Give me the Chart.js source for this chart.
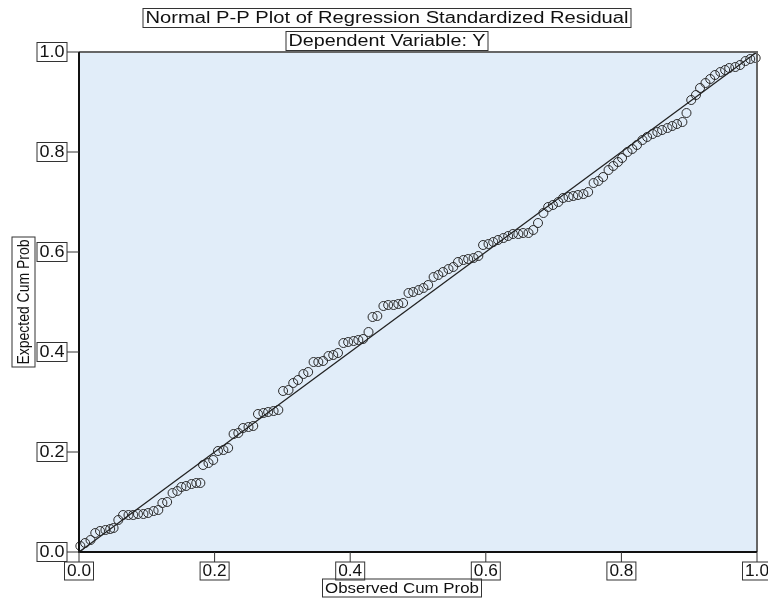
<!DOCTYPE html>
<html>
<head>
<meta charset="utf-8">
<script src="https://cdn.jsdelivr.net/npm/chart.js@4"></script>
<style>
  html, body { margin: 0; padding: 0; background: #fff; }
  #contenedor { width: 768px; height: 598px; }
</style>
</head>
<body>
<div id="contenedor"><canvas id="graficoPP" width="768" height="598"></canvas></div>
<script>
// Textos del gráfico
const titulo = 'Normal P-P Plot of Regression Standardized Residual';
const subtitulo = 'Dependent Variable: Y';
const tituloX = 'Observed Cum Prob';
const tituloY = 'Expected Cum Prob';

// Marcas de los ejes
const marcas = [0, 0.2, 0.4, 0.6, 0.8, 1.0];
const etiquetasMarcas = ['0.0', '0.2', '0.4', '0.6', '0.8', '1.0'];

const probObservada = [
  0.002, 0.009, 0.017, 0.024, 0.031, 0.039, 0.046, 0.051, 0.058, 0.065,
  0.073, 0.080, 0.087, 0.095, 0.102, 0.110, 0.117, 0.123, 0.130, 0.138,
  0.145, 0.151, 0.158, 0.166, 0.173, 0.179, 0.183, 0.191, 0.198, 0.205,
  0.213, 0.220, 0.228, 0.235, 0.242, 0.250, 0.257, 0.264, 0.272, 0.279,
  0.287, 0.294, 0.301, 0.309, 0.316, 0.323, 0.331, 0.338, 0.346, 0.353,
  0.360, 0.368, 0.375, 0.382, 0.390, 0.397, 0.405, 0.412, 0.419, 0.427,
  0.433, 0.440, 0.449, 0.456, 0.464, 0.471, 0.478, 0.486, 0.493, 0.501,
  0.508, 0.515, 0.523, 0.530, 0.537, 0.545, 0.552, 0.559, 0.567, 0.574,
  0.582, 0.589, 0.596, 0.604, 0.611, 0.618, 0.626, 0.633, 0.640, 0.648,
  0.655, 0.663, 0.670, 0.677, 0.685, 0.692, 0.699, 0.707, 0.714, 0.722,
  0.729, 0.736, 0.744, 0.751, 0.759, 0.766, 0.773, 0.781, 0.788, 0.795,
  0.801, 0.809, 0.816, 0.823, 0.831, 0.838, 0.846, 0.853, 0.860, 0.868,
  0.875, 0.882, 0.890, 0.896, 0.903, 0.910, 0.916, 0.924, 0.931, 0.938,
  0.946, 0.953, 0.959, 0.968, 0.975, 0.983, 0.990, 0.998
];
const probEsperada = [
  0.012, 0.018, 0.024, 0.038, 0.042, 0.044, 0.046, 0.048, 0.064, 0.074,
  0.074, 0.074, 0.076, 0.076, 0.078, 0.082, 0.084, 0.098, 0.100, 0.118,
  0.122, 0.130, 0.132, 0.136, 0.138, 0.138, 0.174, 0.178, 0.184, 0.202,
  0.204, 0.208, 0.236, 0.238, 0.248, 0.250, 0.252, 0.276, 0.278, 0.280,
  0.282, 0.284, 0.322, 0.324, 0.338, 0.344, 0.356, 0.360, 0.380, 0.380,
  0.382, 0.392, 0.394, 0.398, 0.418, 0.420, 0.422, 0.424, 0.426, 0.440,
  0.470, 0.472, 0.492, 0.494, 0.494, 0.496, 0.498, 0.518, 0.520, 0.524,
  0.528, 0.534, 0.550, 0.554, 0.560, 0.566, 0.570, 0.580, 0.584, 0.586,
  0.588, 0.592, 0.614, 0.616, 0.620, 0.624, 0.628, 0.632, 0.636, 0.636,
  0.638, 0.638, 0.644, 0.658, 0.678, 0.690, 0.694, 0.700, 0.708, 0.710,
  0.712, 0.714, 0.716, 0.720, 0.738, 0.742, 0.750, 0.764, 0.772, 0.780,
  0.788, 0.800, 0.806, 0.814, 0.824, 0.830, 0.836, 0.840, 0.844, 0.848,
  0.852, 0.856, 0.860, 0.878, 0.904, 0.914, 0.928, 0.938, 0.946, 0.954,
  0.960, 0.964, 0.968, 0.970, 0.974, 0.982, 0.986, 0.988
];

// Recta de referencia
const diagonal = [0, 1];

const fuente = '"Liberation Sans", Arial, sans-serif';

// Dibuja un texto dentro de una caja (se estira para llenar la caja)
function cajaTexto(ctx, texto, cx, cy, largo, grueso, tam, girar) {
  ctx.save();
  ctx.translate(cx, cy);
  if (girar) ctx.rotate(-Math.PI / 2);
  ctx.strokeStyle = '#333';
  ctx.lineWidth = 1;
  ctx.strokeRect(-largo / 2, -grueso / 2, largo, grueso);
  ctx.font = tam + 'px ' + fuente;
  const w = ctx.measureText(texto).width;
  ctx.scale((largo - 5) / w, 1);
  ctx.fillStyle = '#111';
  ctx.textAlign = 'center';
  ctx.textBaseline = 'middle';
  ctx.fillText(texto, 0, 1);
  ctx.restore();
}

const marco = {
  id: 'marco',
  beforeDatasetsDraw(chart) {
    const { ctx, chartArea: a } = chart;
    ctx.save();
    ctx.fillStyle = '#e1edf9';
    ctx.fillRect(a.left, a.top, a.right - a.left, a.bottom - a.top);
    ctx.restore();
  },
  afterDraw(chart) {
    const { ctx, chartArea: a, scales } = chart;
    ctx.save();
    // borde superior y derecho en gris, ejes en negro
    ctx.lineWidth = 2;
    ctx.strokeStyle = '#666';
    ctx.beginPath();
    ctx.moveTo(a.left, a.top);
    ctx.lineTo(a.right, a.top);
    ctx.lineTo(a.right, a.bottom);
    ctx.stroke();
    ctx.strokeStyle = '#111';
    ctx.beginPath();
    ctx.moveTo(a.left, a.top);
    ctx.lineTo(a.left, a.bottom);
    ctx.lineTo(a.right, a.bottom);
    ctx.stroke();

    ctx.lineWidth = 1;
    ctx.strokeStyle = '#333';
    marcas.forEach((v, i) => {
      const py = scales.y.getPixelForValue(v);
      const px = scales.x.getPixelForValue(v);
      ctx.beginPath();
      ctx.moveTo(a.left - 12, py);
      ctx.lineTo(a.left, py);
      ctx.moveTo(px, a.bottom);
      ctx.lineTo(px, a.bottom + 10);
      ctx.stroke();
      cajaTexto(ctx, etiquetasMarcas[i], a.left - 27, py, 30, 19, 16, false);
      cajaTexto(ctx, etiquetasMarcas[i], px, a.bottom + 19, 29, 18, 16, false);
    });
    ctx.restore();

    cajaTexto(ctx, titulo, 387, 18, 488, 19, 16, false);
    cajaTexto(ctx, subtitulo, 387, 41, 202, 19, 16, false);
    cajaTexto(ctx, tituloX, 402, 588, 159, 18, 15, false);
    cajaTexto(ctx, tituloY, 23.5, 302, 130, 23, 17, true);
  }
};

const puntos = probObservada.map((x, i) => ({ x: x, y: probEsperada[i] }));

new Chart(document.getElementById('graficoPP').getContext('2d'), {
  type: 'scatter',
  data: {
    datasets: [
      {
        data: diagonal.map(v => ({ x: v, y: v })),
        showLine: true,
        borderColor: '#222',
        borderWidth: 1.3,
        pointRadius: 0
      },
      {
        data: puntos,
        pointStyle: 'circle',
        pointRadius: 4.5,
        backgroundColor: 'rgba(0,0,0,0)',
        borderColor: '#2a2a2a',
        borderWidth: 1,
        clip: false
      }
    ]
  },
  options: {
    responsive: false,
    animation: false,
    layout: { padding: { left: 79, right: 11, top: 52, bottom: 46 } },
    scales: {
      x: { type: 'linear', min: 0, max: 1, display: false },
      y: { type: 'linear', min: 0, max: 1, display: false }
    },
    plugins: {
      legend: { display: false },
      tooltip: { enabled: false }
    }
  },
  plugins: [marco]
});
</script>
</body>
</html>
